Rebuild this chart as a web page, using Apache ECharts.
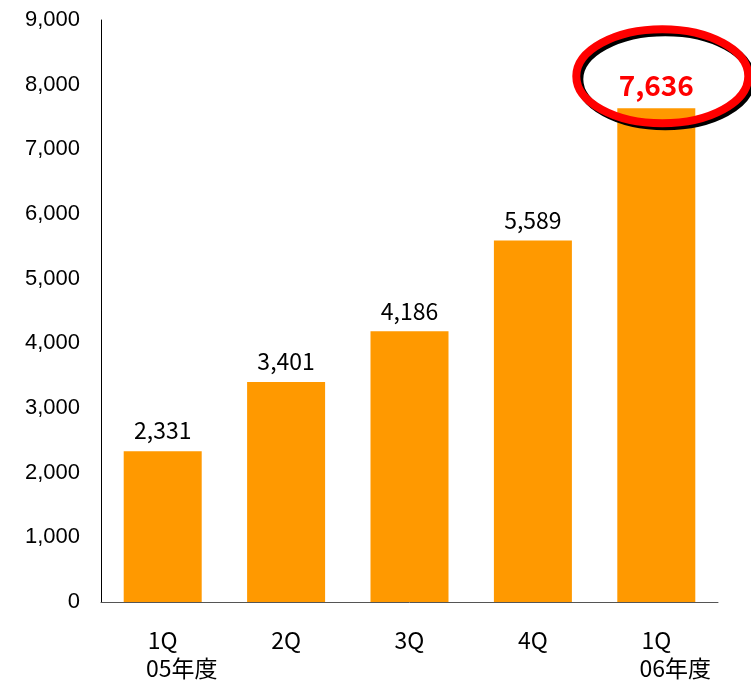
<!DOCTYPE html>
<html><head><meta charset="utf-8">
<script src="https://cdn.jsdelivr.net/npm/echarts@6/dist/echarts.min.js"></script>
<style>html,body{margin:0;padding:0;background:#fff}#c{width:751px;height:682px}</style>
</head><body><div id="c"></div>
<script>
const quarters = ['1Q', '2Q', '3Q', '4Q', '1Q'];
const years = ['05年度', '', '', '', '06年度'];
const values = [2331, 3401, 4186, 5589, 7636];
const yTicks = [0, 1000, 2000, 3000, 4000, 5000, 6000, 7000, 8000, 9000];

const cats = quarters.map((q, i) => years[i] ? q + '\n{y|' + years[i] + '}' : q);
const chart = echarts.init(document.getElementById('c'));
const last = values.length - 1;
chart.setOption({
  animation: false,
  grid: { left: 101, right: 33, top: 20, bottom: 78 },
  xAxis: {
    type: 'category', data: cats,
    axisLine: { lineStyle: { color: '#555', width: 1 } },
    axisTick: { show: false },
    axisLabel: {
      interval: 0, hideOverlap: false,
      margin: 24, color: '#000', fontSize: 23, lineHeight: 28,
      fontFamily: 'Noto Sans CJK JP',
      rich: { y: { fontSize: 23, lineHeight: 28, fontFamily: 'Noto Sans CJK JP', color: '#000', padding: [0, 0, 0, 38] } }
    }
  },
  yAxis: {
    type: 'value', min: yTicks[0], max: yTicks[yTicks.length - 1], interval: 1000,
    splitLine: { show: false },
    axisLine: { show: true, lineStyle: { color: '#000', width: 1 } },
    axisTick: { show: false },
    axisLabel: {
      margin: 21, color: '#000', fontSize: 22, fontFamily: 'Liberation Sans',
      padding: [5, 0, 0, 0],
      formatter: v => v.toLocaleString('en-US')
    }
  },
  series: [{
    type: 'bar', barWidth: 78, z: 1,
    data: values.map((v, i) => i === last ? {
      value: v,
      label: { color: '#FF0000', fontWeight: 'bold', fontSize: 28, distance: 9 }
    } : v),
    itemStyle: { color: '#FF9900' },
    label: {
      show: true, position: 'top', distance: 9, color: '#000', fontSize: 23,
      fontFamily: 'Noto Sans CJK JP',
      formatter: p => p.value.toLocaleString('en-US')
    }
  }]
});
const p = chart.convertToPixel({ xAxisIndex: 0, yAxisIndex: 0 }, [last, values[last]]);
chart.setOption({
  graphic: [{
    type: 'ellipse', z: 100,
    shape: { cx: p[0] + 6, cy: p[1] - 32, rx: 86, ry: 47 },
    style: { fill: 'none', stroke: '#FF0000', lineWidth: 8, shadowColor: '#000', shadowOffsetX: 3, shadowOffsetY: 3, shadowBlur: 0 }
  }]
});
</script></body></html>
